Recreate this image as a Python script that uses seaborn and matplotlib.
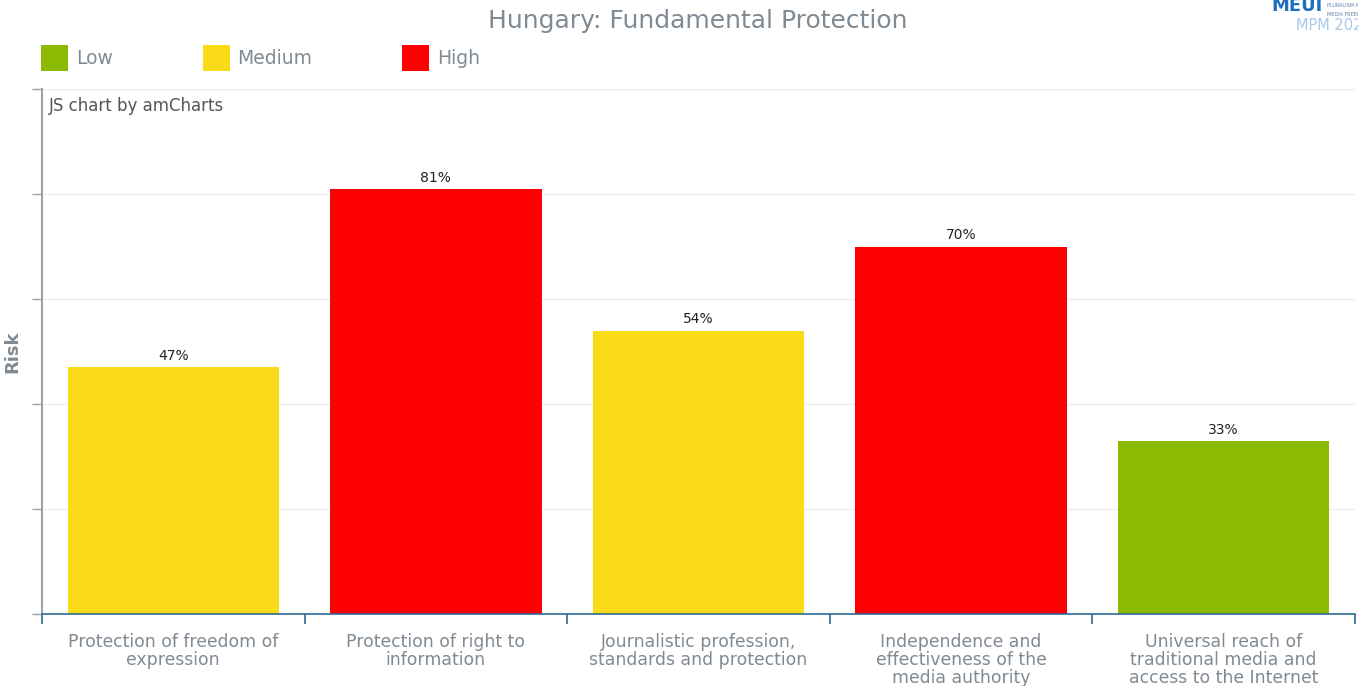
import matplotlib
matplotlib.use("Agg")
import matplotlib.pyplot as plt
from matplotlib.patches import Patch
import seaborn as sns
import pandas as pd

# Data
categories = [
    "Protection of freedom of\nexpression",
    "Protection of right to\ninformation",
    "Journalistic profession,\nstandards and protection",
    "Independence and\neffectiveness of the\nmedia authority",
    "Universal reach of\ntraditional media and\naccess to the Internet",
]
risk_values = [47, 81, 54, 70, 33]
risk_levels = ["Medium", "High", "Medium", "High", "Low"]
level_order = ["Low", "Medium", "High"]
level_colors = {"Low": "#8cba00", "Medium": "#fadb17", "High": "#ff0000"}

df = pd.DataFrame({"category": categories, "risk": risk_values, "level": risk_levels})

sns.set_theme(style="white")
plt.rcParams["font.family"] = ["DejaVu Sans"]

TEXT_GREY = "#808a93"
AXIS_BLUE = "#2e6a93"

fig = plt.figure(figsize=(13.58, 6.86), dpi=100)
ax = fig.add_axes([0.0309, 0.105, 0.9669, 0.765])

sns.barplot(data=df, x="category", y="risk", hue="level", hue_order=level_order,
            palette=level_colors, dodge=False, width=0.805, saturation=1,
            legend=False, ax=ax, edgecolor="none")

for cont in ax.containers:
    ax.bar_label(cont, fmt="%d%%", padding=3, fontsize=10, color="#222222")

ax.set_xlim(-0.5, 4.5)
ax.set_ylim(0, 100)

# Horizontal grid
ax.set_yticks([0, 20, 40, 60, 80, 100])
ax.set_yticklabels([])
ax.yaxis.grid(True, color="#eeeeee", linewidth=1)
ax.set_axisbelow(True)
ax.tick_params(axis="y", which="major", direction="out", length=7, width=1,
               color="#9aa3ab", left=True, pad=0)

# Category boundaries as ticks, labels centred between them
ax.set_xticks([-0.5, 0.5, 1.5, 2.5, 3.5, 4.5])
ax.set_xticklabels([])
ax.set_xticks(range(len(categories)), minor=True)
ax.set_xticklabels(categories, minor=True, fontsize=12.4, color=TEXT_GREY, linespacing=1.0)
ax.tick_params(axis="x", which="major", direction="out", length=7, width=1.2,
               color=AXIS_BLUE, bottom=True)
ax.tick_params(axis="x", which="minor", length=0, pad=14)

ax.set_xlabel("")
ax.set_ylabel("Risk", fontsize=13, fontweight="bold", color=TEXT_GREY, labelpad=8)

for side in ["top", "right"]:
    ax.spines[side].set_visible(False)
ax.spines["left"].set_color("#9aa3ab")
ax.spines["left"].set_linewidth(1.5)
ax.spines["bottom"].set_color(AXIS_BLUE)
ax.spines["bottom"].set_linewidth(1.2)

ax.text(0.005, 0.985, "JS chart by amCharts", transform=ax.transAxes,
        ha="left", va="top", fontsize=12, color="#555555")

# Title
fig.text(0.514, 0.97, "Hungary: Fundamental Protection", ha="center", va="center",
         fontsize=18, color=TEXT_GREY)

# Legend
handles = [Patch(facecolor=level_colors[l], edgecolor="none", label=l) for l in level_order]
leg = fig.legend(handles=handles, loc="upper left", bbox_to_anchor=(0.0302, 0.935),
                 ncol=3, frameon=False, fontsize=13.5, handlelength=1.45,
                 handleheight=1.78, handletextpad=0.4, columnspacing=4.8,
                 borderaxespad=0, borderpad=0)
for t in leg.get_texts():
    t.set_color(TEXT_GREY)

# Partial logo in the corner
fig.text(0.9365, 1.004, "MEUI", ha="left", va="top", fontsize=13, fontweight="bold",
         color="#1f6fbf")
fig.text(0.9775, 0.995, "PLURALISM AND", ha="left", va="top", fontsize=3.5,
         color="#5a7fa8")
fig.text(0.9775, 0.983, "MEDIA FREEDOM", ha="left", va="top", fontsize=3.5,
         color="#5a7fa8")
fig.text(0.954, 0.963, "MPM 2023", ha="left", va="center", fontsize=10.5,
         color="#a9c9ea")

fig.savefig("out.png", dpi=100)
